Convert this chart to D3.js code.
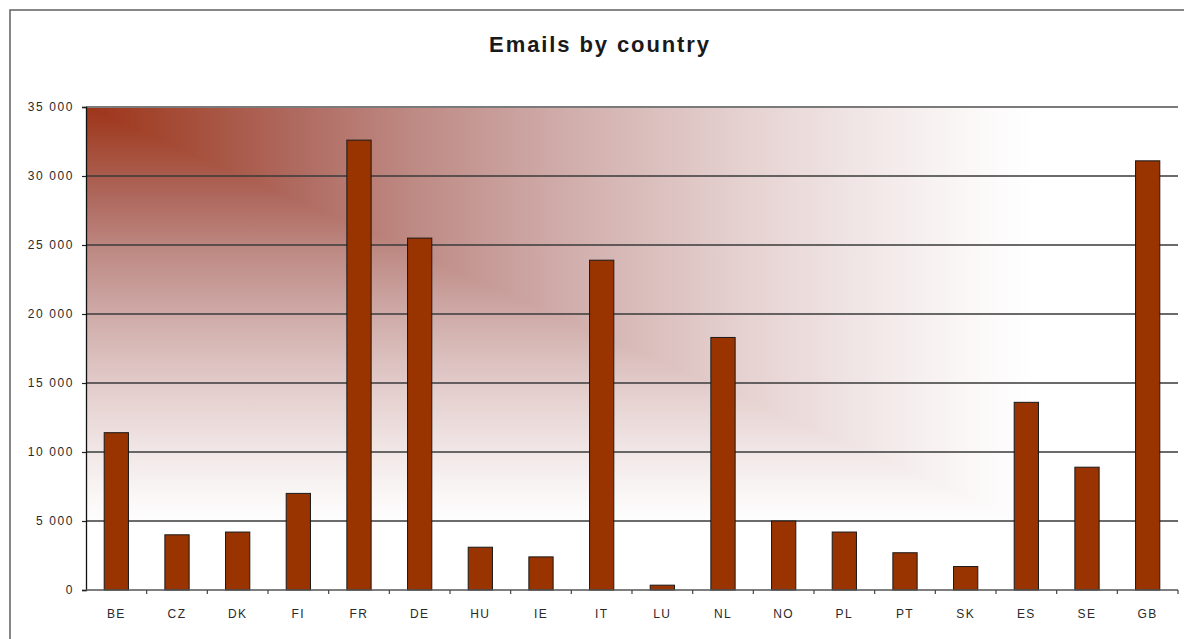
<!DOCTYPE html>
<html>
<head>
<meta charset="utf-8">
<script src="https://cdn.jsdelivr.net/npm/d3@7"></script>
<style>
  html, body { margin: 0; padding: 0; background: #fff; }
  svg { display: block; }
  text { font-family: "Liberation Sans", Arial, sans-serif; }
</style>
</head>
<body>
<svg id="chart" width="1184" height="639"></svg>
<script>
const categories = ["BE","CZ","DK","FI","FR","DE","HU","IE","IT","LU","NL","NO","PL","PT","SK","ES","SE","GB"];
const emails = [11400, 4000, 4200, 7000, 32600, 25500, 3100, 2400, 23900, 350, 18300, 5000, 4200, 2700, 1700, 13600, 8900, 31100];
const yTicks = [0, 5000, 10000, 15000, 20000, 25000, 30000, 35000];
const title = "Emails by country";

const svg = d3.select("#chart");
const margin = {left: 86, top: 107, right: 1184 - 1178, bottom: 639 - 590};
const W = 1184 - margin.left - margin.right;
const H = 639 - margin.top - margin.bottom;

// outer border
svg.append("rect").attr("x", 10).attr("y", 10).attr("width", 1300).attr("height", 800)
  .attr("fill", "#fff").attr("stroke", "#6a6a6a").attr("stroke-width", 1.6);

// title
svg.append("text").attr("x", 600).attr("y", 52).attr("text-anchor", "middle")
  .attr("font-size", 22).attr("font-weight", "bold").attr("letter-spacing", 1.9)
  .attr("fill", "#1a1a1a").text(title);

const x = d3.scaleBand().domain(categories).range([0, W]).paddingInner(0.6).paddingOuter(0.3);
const xb = d3.scaleBand().domain(categories).range([0, W]);
const y = d3.scaleLinear().domain([0, 35000]).range([H, 0]);

const g = svg.append("g").attr("transform", `translate(${margin.left},${margin.top})`);

// gradient background ("from corner" style)
const defs = svg.append("defs");
const stops = [
  [0, "rgb(158,52,24)"], [0.1, "rgb(166,80,60)"], [0.2, "rgb(176,108,98)"],
  [0.3, "rgb(190,138,132)"], [0.4, "rgb(203,163,160)"], [0.5, "rgb(216,187,185)"],
  [0.6, "rgb(229,209,208)"], [0.7, "rgb(240,228,228)"], [0.8, "rgb(250,246,246)"],
  [0.87, "rgb(255,255,255)"], [1, "rgb(255,255,255)"]
];
function makeGrad(id, x2, y2) {
  const lg = defs.append("linearGradient").attr("id", id)
    .attr("gradientUnits", "userSpaceOnUse")
    .attr("x1", 0).attr("y1", 0).attr("x2", x2).attr("y2", y2);
  stops.forEach(s => lg.append("stop").attr("offset", s[0]).attr("stop-color", s[1]));
}
makeGrad("gx", W, 0);
makeGrad("gy", 0, H);
g.append("rect").attr("x", 0).attr("y", 0).attr("width", W).attr("height", H).attr("fill", "url(#gy)");
g.append("polygon").attr("points", `0,0 ${W},0 ${W},${H}`).attr("fill", "url(#gx)");

// gridlines
g.selectAll("line.grid").data(yTicks.filter(d => d > 0)).enter().append("line")
  .attr("class", "grid")
  .attr("x1", 0).attr("x2", W)
  .attr("y1", d => y(d)).attr("y2", d => y(d))
  .attr("stroke", d => d === 35000 ? "#7a7a7a" : "#3a3a3a")
  .attr("stroke-width", d => d === 35000 ? 1.8 : 1.3);

// bars
g.selectAll("rect.bar").data(emails).enter().append("rect")
  .attr("class", "bar")
  .attr("x", (d, i) => x(categories[i]))
  .attr("y", d => y(d))
  .attr("width", x.bandwidth())
  .attr("height", d => H - y(d))
  .attr("fill", "#993300")
  .attr("stroke", "#1a1a1a").attr("stroke-width", 1);

// y axis
const yAxis = d3.axisLeft(y).tickValues(yTicks).tickSize(4).tickPadding(8)
  .tickFormat(d => d3.format(",")(d).replace(/,/g, " "));
const ya = g.append("g").call(yAxis);
ya.select(".domain").attr("stroke", "#111").attr("stroke-width", 1.3);
ya.selectAll(".tick line").attr("stroke", "#222").attr("stroke-width", 1.2);
ya.selectAll(".tick text").attr("font-size", 12).attr("letter-spacing", 1.6)
  .attr("fill", "#2a2a2a").style("font-family", "'Liberation Sans', Arial, sans-serif");

// x axis
const xa = g.append("g").attr("transform", `translate(0,${H})`);
xa.append("line").attr("x1", 0).attr("x2", W).attr("y1", 0).attr("y2", 0)
  .attr("stroke", "#555").attr("stroke-width", 1.4);
xa.selectAll("line.xt").data(categories.slice(1).concat(["__end"])).enter().append("line")
  .attr("class", "xt")
  .attr("x1", (d, i) => i < categories.length - 1 ? xb(d) : W)
  .attr("x2", (d, i) => i < categories.length - 1 ? xb(d) : W)
  .attr("y1", 0).attr("y2", 4)
  .attr("stroke", "#444").attr("stroke-width", 1.2);
xa.selectAll("text.xl").data(categories).enter().append("text")
  .attr("class", "xl")
  .attr("x", d => xb(d) + xb.bandwidth() / 2)
  .attr("y", 28)
  .attr("text-anchor", "middle")
  .attr("font-size", 12).attr("letter-spacing", 1.4)
  .attr("fill", "#2a2a2a")
  .text(d => d);
</script>
</body>
</html>
